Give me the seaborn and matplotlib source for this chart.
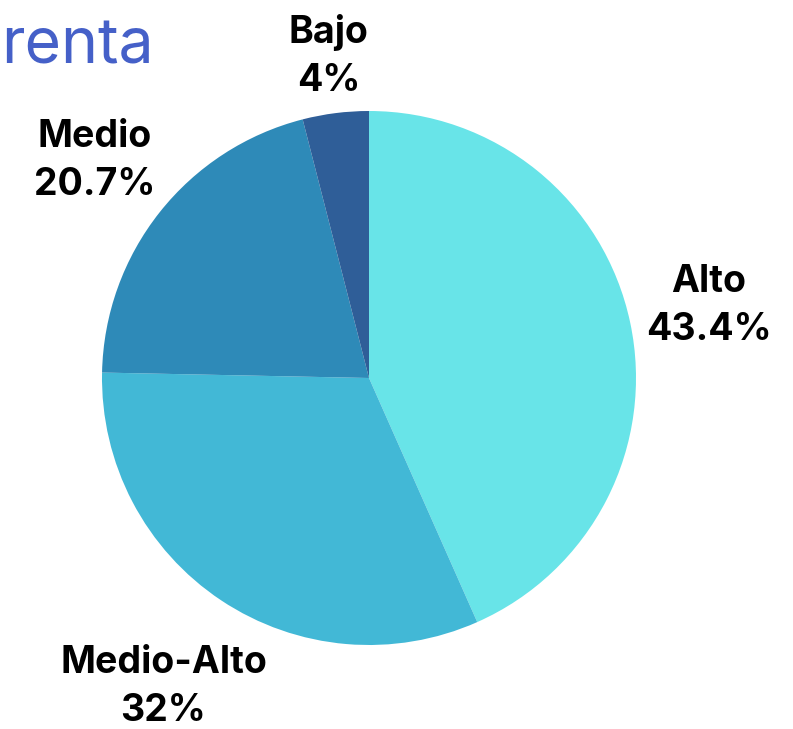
import numpy as np
import matplotlib
matplotlib.use("Agg")
import matplotlib.pyplot as plt
import seaborn as sns

categories = ["Alto", "Medio-Alto", "Medio", "Bajo"]
values = [43.4, 32.0, 20.7, 4.0]
value_labels = ["43.4%", "32%", "20.7%", "4%"]
colors = ["#68E4E8", "#42B8D6", "#2E8AB8", "#2F5E98"]
label_dist = [1.30, 1.39, 1.31, 1.215]
title_text = "renta"

sns.set_theme(style="white")
plt.rcParams["font.family"] = ["Inter", "DejaVu Sans"]

W, H = 793, 729
fig = plt.figure(figsize=(W / 100, H / 100), dpi=100)
ax = fig.add_axes([0, 0, 1, 1])
ax.set_xlim(0, W)
ax.set_ylim(0, H)
ax.set_aspect("equal")
ax.axis("off")

cx, cy, r = 369, H - 378, 267
wedges, _ = ax.pie(values, colors=colors, startangle=90, counterclock=False,
                   center=(cx, cy), radius=r, frame=True,
                   wedgeprops=dict(linewidth=0))
ax.set_xlim(0, W)
ax.set_ylim(0, H)
ax.axis("off")

for w, cat, vl, d in zip(wedges, categories, value_labels, label_dist):
    ang = np.deg2rad((w.theta1 + w.theta2) / 2)
    x = cx + d * r * np.cos(ang)
    y = cy + d * r * np.sin(ang)
    ax.text(x, y, f"{cat}\n{vl}", ha="center", va="center", fontsize=27,
            fontweight="bold", color="#000000", linespacing=1.42)

ax.text(1, H - 63, title_text, ha="left", va="baseline", fontsize=45,
        color="#4560C8")

fig.savefig("out.png", dpi=100)
